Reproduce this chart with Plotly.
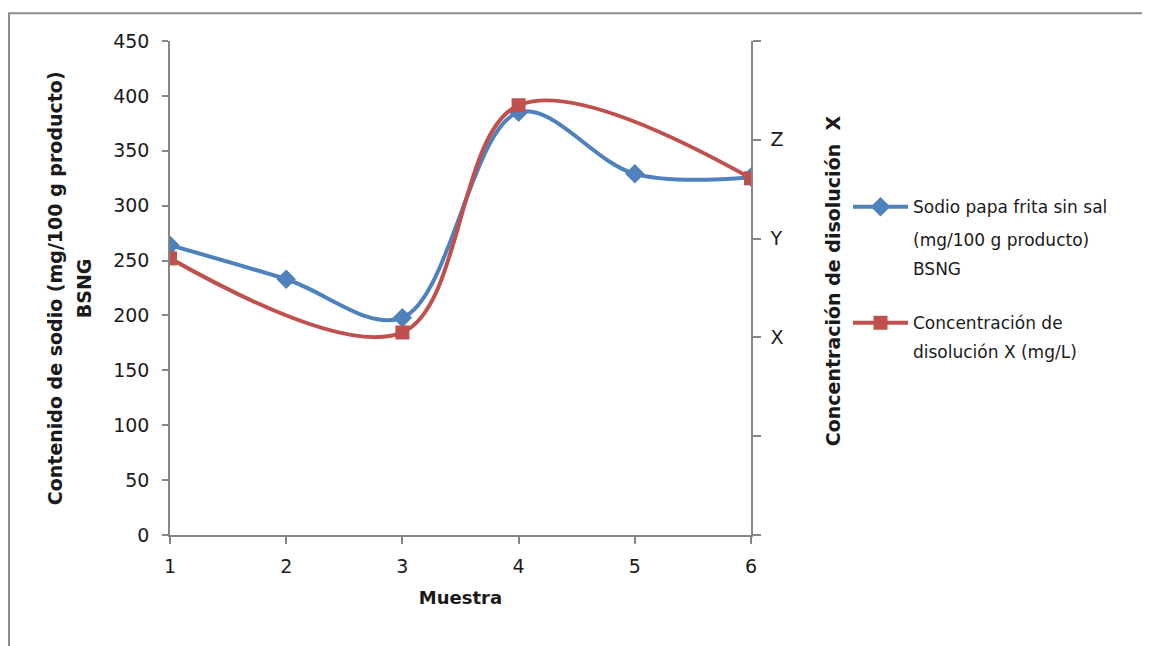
import plotly.graph_objects as go

muestra = [1, 2, 3, 4, 5, 6]
sodio = [264, 233, 198, 385, 329, 326]
conc_x = [1, 3, 4, 6]
conc_y = [2.80, 2.05, 4.35, 3.61]
right_tickvals = [0, 1, 2, 3, 4, 5]
right_ticktext = ["", "", "X", "Y", "Z", ""]

FONT = "DejaVu Sans"
AX = "#868686"
TXT = "#1a1a1a"

# page -> paper helpers (page has an 8px body offset)
def px(xp):
    return (xp - 170) / 581.0

def py(yp):
    return (534.8 - yp) / 494.0

fig = go.Figure()
fig.add_trace(go.Scatter(
    x=muestra, y=sodio, mode="lines+markers",
    name="Sodio papa frita sin sal",
    line=dict(color="#4F81BD", width=4, shape="spline", smoothing=1),
    marker=dict(symbol="diamond", size=15, color="#4F81BD"),
    legend="legend", showlegend=True,
))
fig.add_trace(go.Scatter(
    x=conc_x, y=conc_y, mode="lines+markers", yaxis="y2",
    name="Concentración de",
    line=dict(color="#C0504D", width=4, shape="spline", smoothing=1),
    marker=dict(symbol="square", size=14, color="#C0504D"),
    legend="legend2", showlegend=True,
))

leg_common = dict(font=dict(family=FONT, size=17, color=TXT), bgcolor="rgba(0,0,0,0)",
                  itemwidth=55, xanchor="left", yanchor="middle", borderwidth=0,
                  visible=True)

annos = [
    dict(text="<b>Contenido de sodio (mg/100 g producto)</b>", x=px(55), y=py(288),
         textangle=-90, font=dict(size=19)),
    dict(text="<b>BSNG</b>", x=px(84), y=py(288), textangle=-90, font=dict(size=19)),
    dict(text="<b>Concentración de disolución  X</b>", x=px(833), y=py(281),
         textangle=-90, font=dict(size=19)),
    dict(text="(mg/100 g producto)", x=px(911), y=py(240), xanchor="left", font=dict(size=17)),
    dict(text="BSNG", x=px(911), y=py(269), xanchor="left", font=dict(size=17)),
    dict(text="disolución X (mg/L)", x=px(911), y=py(352), xanchor="left", font=dict(size=17)),
]
for a in annos:
    a.update(xref="paper", yref="paper", showarrow=False)
    a.setdefault("xanchor", "center")
    a["yanchor"] = "middle"
    a["font"].update(family=FONT, color=TXT)

fig.update_layout(
    width=1150, height=646,
    showlegend=True,
    margin=dict(l=162, r=407, t=33, b=119, autoexpand=False),
    paper_bgcolor="white", plot_bgcolor="white",
    font=dict(family=FONT, size=17, color=TXT),
    xaxis=dict(
        range=[1, 6], tickvals=muestra, showgrid=False, zeroline=False,
        showline=True, linecolor=AX, linewidth=1.5,
        ticks="outside", ticklen=7, tickcolor=AX, tickwidth=1.5,
        tickfont=dict(size=19, color=TXT), ticklabelstandoff=6,
        title=dict(text="<b>Muestra</b>", font=dict(size=18, color=TXT), standoff=16),
    ),
    yaxis=dict(
        range=[0, 450], dtick=50, showgrid=False, zeroline=False,
        showline=True, linecolor=AX, linewidth=1.5,
        ticks="outside", ticklen=6, tickcolor=AX, tickwidth=1.5,
        tickfont=dict(size=19, color=TXT), ticklabelstandoff=9,
    ),
    yaxis2=dict(
        range=[0, 5], overlaying="y", side="right",
        tickvals=right_tickvals, ticktext=right_ticktext,
        showgrid=False, zeroline=False,
        showline=True, linecolor=AX, linewidth=1.5,
        ticks="outside", ticklen=8, tickcolor=AX, tickwidth=1.5,
        tickfont=dict(size=19, color=TXT), ticklabelstandoff=6,
    ),
    legend=dict(x=px(848), y=py(207), **leg_common),
    legend2=dict(x=px(848), y=py(323), **leg_common),
    annotations=annos,
    shapes=[dict(
        type="rect", xref="paper", yref="paper",
        x0=px(9), x1=1.72, y0=-0.3, y1=py(13),
        line=dict(color="#8c8c8c", width=2), fillcolor="rgba(0,0,0,0)",
        layer="below",
    )],
)

fig.write_html("out.html")
